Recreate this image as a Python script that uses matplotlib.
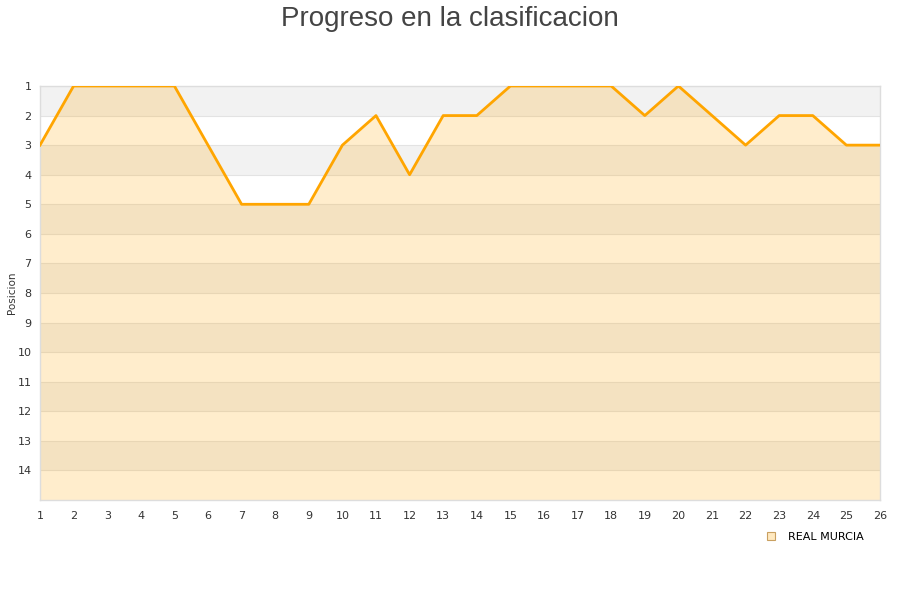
import matplotlib
matplotlib.use("Agg")
from matplotlib import pyplot as plt
from matplotlib.lines import Line2D

# jornadas y posicion del equipo
jornadas = list(range(1, 27))
posicion = [3, 1, 1, 1, 1, 3, 5, 5, 5, 3, 2, 4, 2, 2, 1, 1, 1, 1, 2, 1, 2, 3, 2, 2, 3, 3]
equipo = "REAL MURCIA"
y_ticks = list(range(1, 15))

fig = plt.figure(figsize=(9, 6), dpi=100)
ax = fig.add_axes([40 / 900, 1 - 500 / 600, 840 / 900, 414 / 600])

# bandas alternas gris / blanco
for p in range(1, 15):
    if p % 2 == 1:
        ax.axhspan(p, p + 1, color="#f2f2f2", zorder=0, lw=0)
for p in range(2, 15):
    ax.axhline(p, color="#e3e3e3", lw=0.8, zorder=1)

ax.fill_between(jornadas, posicion, 15, color="#ffa500", alpha=0.2, lw=0, zorder=2)
ax.plot(jornadas, posicion, color="#ffa500", lw=2, zorder=3)

ax.set_xlim(1, 26)
ax.set_ylim(15, 1)
ax.set_xticks(jornadas)
ax.set_yticks(y_ticks)
ax.tick_params(axis="x", length=0, labelsize=8, colors="#333333", pad=8)
ax.tick_params(axis="y", length=0, labelsize=8, colors="#333333", pad=6)
for s in ax.spines.values():
    s.set_color("#dddddd")
    s.set_linewidth(1)

fig.text(12 / 900, 1 - 293 / 600, "Posicion", rotation=90, fontsize=7.5,
         color="#333333", ha="center", va="center")
fig.suptitle("Progreso en la clasificacion", fontsize=20, color="#444444", y=0.99,
             family="Liberation Sans")

handle = Line2D([], [], marker="s", linestyle="none", markersize=6,
                markerfacecolor="#ffe9c0", markeredgecolor="#c9a060", markeredgewidth=0.8)
fig.legend([handle], [equipo], loc="center", bbox_to_anchor=(0.902, 0.105),
           frameon=False, fontsize=8, handletextpad=0.5)

fig.savefig("out.png", dpi=100)
